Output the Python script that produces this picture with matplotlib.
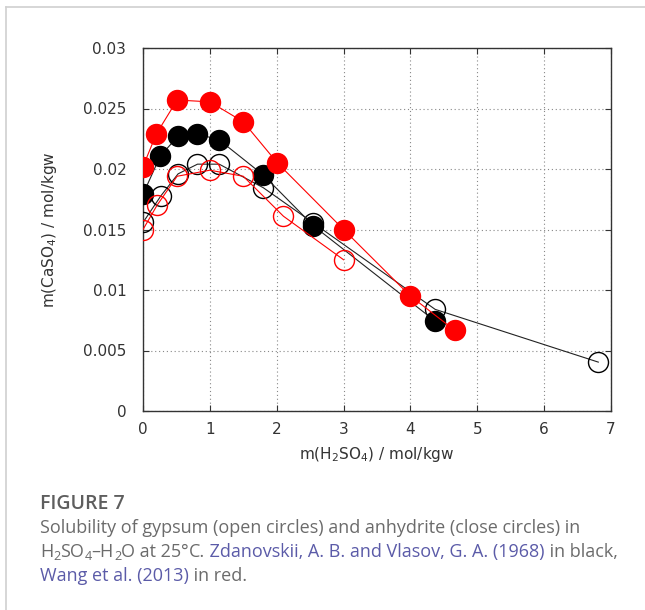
import matplotlib
matplotlib.use("Agg")
import matplotlib.pyplot as plt
from matplotlib.lines import Line2D
from matplotlib.ticker import FuncFormatter

# ---- data ----
zd_anhydrite_x = [0.0, 0.26, 0.525, 0.815, 1.14, 1.80, 2.55, 4.37]
zd_anhydrite_y = [0.0179, 0.0211, 0.0227, 0.0229, 0.0224, 0.0195, 0.0153, 0.00743]
zd_gypsum_x = [0.0, 0.27, 0.525, 0.815, 1.14, 1.80, 2.55, 4.37, 6.81]
zd_gypsum_y = [0.01558, 0.0178, 0.0196, 0.0204, 0.0204, 0.01845, 0.01553, 0.0084, 0.00404]
wang_anhydrite_x = [0.0, 0.2, 0.51, 1.0, 1.5, 2.01, 3.0, 4.0, 4.66]
wang_anhydrite_y = [0.0202, 0.0229, 0.0257, 0.02555, 0.0239, 0.0205, 0.0150, 0.0095, 0.00668]
wang_gypsum_x = [0.0, 0.21, 0.51, 1.0, 1.5, 2.1, 3.0]
wang_gypsum_y = [0.0150, 0.0170, 0.0194, 0.0199, 0.0194, 0.0161, 0.0125]

x_ticks = [0, 1, 2, 3, 4, 5, 6, 7]
y_ticks = [0, 0.005, 0.01, 0.015, 0.02, 0.025, 0.03]

plt.rcParams['font.family'] = ['DejaVu Sans']
plt.rcParams['mathtext.default'] = 'regular'

W, H = 645, 610
fig = plt.figure(figsize=(W / 100, H / 100), dpi=100)

# card border (top and left)
fig.add_artist(Line2D([6/W, 6/W], [0, 1 - 7/H], transform=fig.transFigure, color='#d0d0d0', lw=1.2))
fig.add_artist(Line2D([6/W, 1], [1 - 7/H, 1 - 7/H], transform=fig.transFigure, color='#d0d0d0', lw=1.2))

ax = fig.add_axes([143/W, 1 - 411/H, (611 - 143)/W, (411 - 48)/H])

ms = 14.4
ax.plot(zd_gypsum_x, zd_gypsum_y, '-', color='#222222', lw=0.8, marker='o', ms=ms,
        mfc='none', mec='black', mew=1.0, zorder=3)
ax.plot(zd_anhydrite_x, zd_anhydrite_y, '-', color='#222222', lw=0.8, marker='o', ms=ms,
        mfc='black', mec='black', mew=1.0, zorder=3)
ax.plot(wang_gypsum_x, wang_gypsum_y, '-', color='red', lw=0.8, marker='o', ms=ms,
        mfc='none', mec='red', mew=1.0, zorder=4)
ax.plot(wang_anhydrite_x, wang_anhydrite_y, '-', color='red', lw=0.8, marker='o', ms=ms,
        mfc='red', mec='red', mew=1.0, zorder=4)

ax.set_xlim(0, 7)
ax.set_ylim(0, 0.03)
ax.set_xticks(x_ticks)
ax.set_yticks(y_ticks)
ax.yaxis.set_major_formatter(FuncFormatter(lambda v, p: '%g' % v))
ax.grid(True, color='#888888', lw=0.8, linestyle=(0, (1, 2.5)))
ax.tick_params(direction='in', length=4, width=0.8, top=True, right=True,
               labelsize=11, colors='#333333', pad=8)
ax.tick_params(axis='y', pad=12)
for s in ax.spines.values():
    s.set_color('#333333')
    s.set_linewidth(1.0)
ax.set_axisbelow(True)

ax.set_xlabel(r'm(H$_2$SO$_4$) / mol/kgw', fontsize=11, color='#333333', labelpad=6)
ax.set_ylabel(r'm(CaSO$_4$) / mol/kgw', fontsize=11, color='#333333', labelpad=17)

# ---- caption ----
cap_font = 'Open Sans'
gray = '#6b6b6b'
link = '#5b5ba8'
x0 = 40

fig.canvas.draw()
rend = fig.canvas.get_renderer()

# fit caption font size so that the second line spans the same width as the reference
line2 = 'Solubility of gypsum (open circles) and anhydrite (close circles) in'
probe = fig.text(0, 0, line2, fontsize=12, family=cap_font)
w12 = probe.get_window_extent(rend).width
probe.remove()
fs = 12 * 540.0 / w12


def put_line(y_px, segments):
    x = x0
    for txt, col, kind in segments:
        size = fs
        dy = 0
        if kind == 'sub':
            size = fs * 0.7
            dy = -3.5
        elif kind == 'sup':
            size = fs * 0.7
            dy = 6
        t = fig.text(x / W, 1 - (y_px - dy) / H, txt, fontsize=size, color=col,
                     family=cap_font, va='baseline')
        x = t.get_window_extent(rend).x1


fig.text(x0 / W, 1 - 509 / H, 'FIGURE 7', fontsize=fs * 1.08, color='#5e5e5e',
         family=cap_font, weight='semibold', va='baseline')
put_line(533, [(line2, gray, 'n')])
put_line(557, [('H', gray, 'n'), ('2', gray, 'sub'), ('SO', gray, 'n'), ('4', gray, 'sub'),
               ('\u2013H', gray, 'n'), ('2', gray, 'sub'), ('O at 25', gray, 'n'),
               ('\u00b0', gray, 'n'), ('C.', gray, 'n'),
               (' Zdanovskii, A. B. and Vlasov, G. A. (1968)', link, 'n'),
               (' in black,', gray, 'n')])
put_line(581, [('Wang et al. (2013)', link, 'n'), (' in red.', gray, 'n')])

fig.savefig('out.png', dpi=100)
